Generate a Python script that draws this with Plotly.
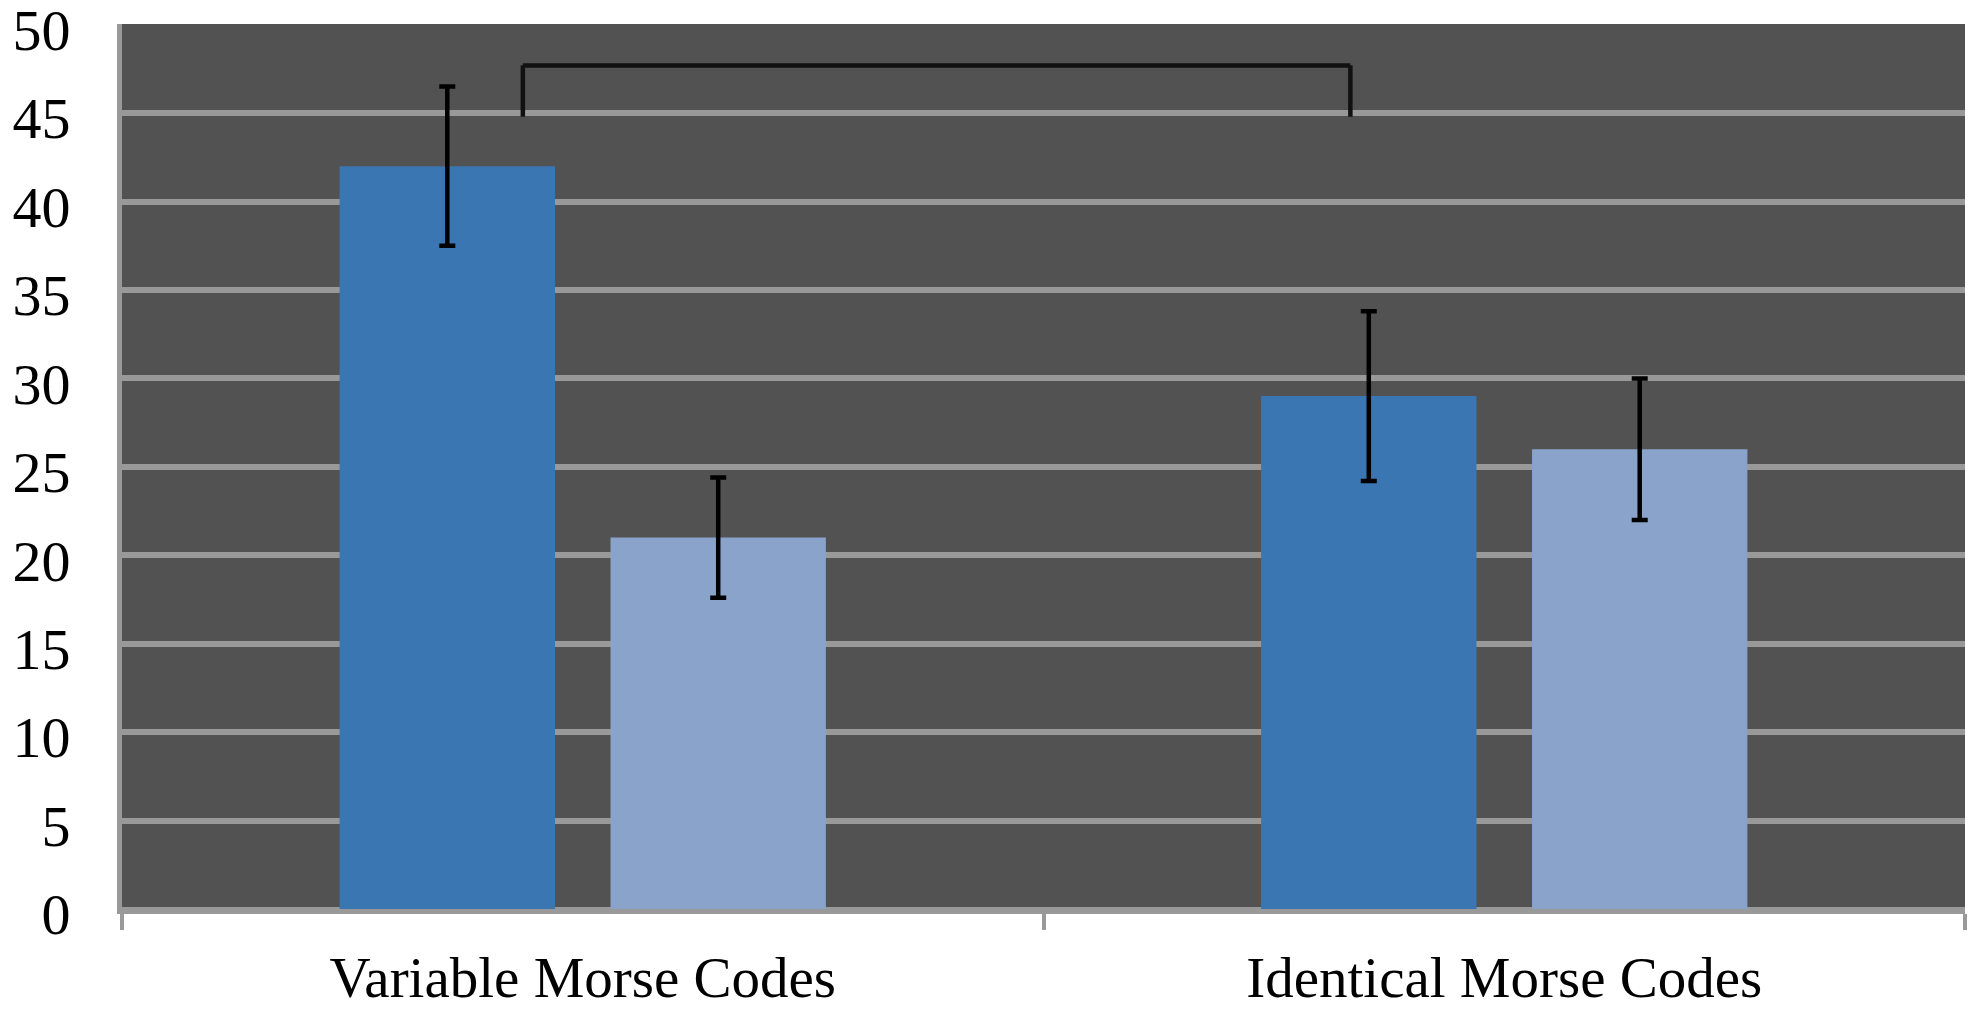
import plotly.graph_objects as go

categories = ["Variable Morse Codes", "Identical Morse Codes"]
series_a = [42, 29]
series_a_err = [4.5, 4.8]
series_b = [21, 26]
series_b_err = [3.4, 4.0]
y_ticks = [0, 5, 10, 15, 20, 25, 30, 35, 40, 45, 50]

# significance bracket (category-index x, value y)
bracket_x = [-0.065, 0.833]
bracket_y_top = 47.7
bracket_y_bottom = 44.8

FONT = "Liberation Serif, Times New Roman, serif"

fig = go.Figure()
fig.add_trace(go.Bar(
    x=categories, y=series_a, name="A",
    marker=dict(color="#3A76B2", line=dict(width=0)),
    error_y=dict(type="data", array=series_a_err, visible=True,
                 color="#000000", thickness=4.5, width=8),
))
fig.add_trace(go.Bar(
    x=categories, y=series_b, name="B",
    marker=dict(color="#8AA3CB", line=dict(width=0)),
    error_y=dict(type="data", array=series_b_err, visible=True,
                 color="#000000", thickness=4.5, width=8),
))

line_style = dict(color="#111111", width=4.5)
fig.add_shape(type="line", xref="x", yref="y",
              x0=bracket_x[0], x1=bracket_x[0], y0=bracket_y_bottom, y1=bracket_y_top, line=line_style)
fig.add_shape(type="line", xref="x", yref="y",
              x0=bracket_x[0], x1=bracket_x[1], y0=bracket_y_top, y1=bracket_y_top, line=line_style)
fig.add_shape(type="line", xref="x", yref="y",
              x0=bracket_x[1], x1=bracket_x[1], y0=bracket_y_top, y1=bracket_y_bottom, line=line_style)

fig.update_layout(
    width=1980, height=1012,
    margin=dict(l=122, r=15, t=24, b=103),
    paper_bgcolor="#FFFFFF",
    plot_bgcolor="#525252",
    showlegend=False,
    barmode="group",
    bargap=0.412,
    bargroupgap=0.205,
    font=dict(family=FONT, color="#000000"),
)
fig.update_xaxes(
    type="category",
    automargin=False,
    showgrid=False,
    showline=True, linecolor="#999999", linewidth=5,
    ticks="outside", tickson="boundaries", ticklen=16, tickwidth=4, tickcolor="#999999",
    ticklabelstandoff=15,
    tickfont=dict(family=FONT, size=57, color="#000000"),
    zeroline=False,
)
fig.update_yaxes(
    range=[0, 50.04],
    automargin=False,
    tickvals=y_ticks,
    showgrid=True, gridcolor="#999999", gridwidth=6,
    showline=True, linecolor="#999999", linewidth=5,
    ticks="", ticklabelstandoff=35, ticklabeloverflow="allow",
    ticklabelshift=5,
    tickfont=dict(family=FONT, size=58, color="#000000"),
    zeroline=True, zerolinecolor="#999999", zerolinewidth=5,
)

# remove the page's default body margin so the figure fills the window exactly
fig.write_html("out.html", config={"displayModeBar": False},
               post_script="document.body.style.margin='0';")
